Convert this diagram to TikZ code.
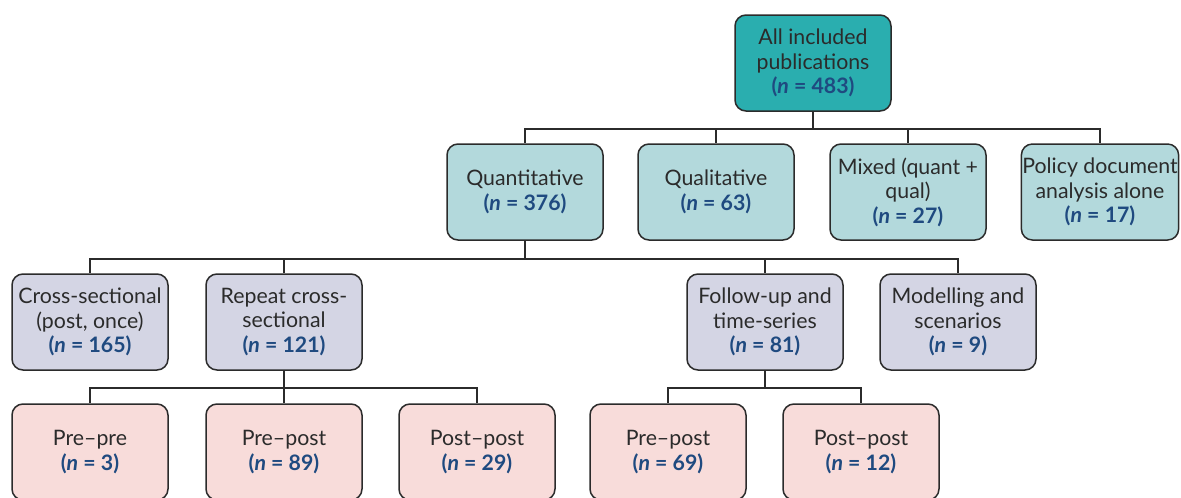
\documentclass[tikz,border=0pt]{standalone}
\usepackage{fontspec}
\setmainfont{Lato}
\definecolor{topfill}{HTML}{2AAEAF}
\definecolor{secfill}{HTML}{B3D9DC}
\definecolor{thirdfill}{HTML}{D4D5E4}
\definecolor{fourthfill}{HTML}{F8DCDA}
\definecolor{nblue}{HTML}{1F4A80}
\definecolor{ink}{HTML}{2B2B2B}
\newcommand{\ncount}[1]{{\bfseries\color{nblue}(\textit{n} = #1)}}
\tikzset{
  box/.style={draw=ink, line width=1.5pt, rounded corners=11pt,
    minimum width=156pt, minimum height=96pt, align=center,
    text=ink, font=\fontsize{21.3}{24.5}\selectfont, inner sep=1pt},
  lvlone/.style={box, fill=topfill},
  lvltwo/.style={box, fill=secfill},
  lvlthree/.style={box, fill=thirdfill},
  lvlfour/.style={box, fill=fourthfill},
  link/.style={draw=ink, line width=1.5pt}
}
\begin{document}
\begin{tikzpicture}[x=1pt,y=-1pt]
\useasboundingbox (0,0) rectangle (1181,498);
\clip (0,0) rectangle (1181,498);

% top level
\node[lvlone] (all) at (813,63) {All included\\publications\\\ncount{483}};

% study types
\node[lvltwo] (quant) at (525,192) {Quantitative\\\ncount{376}};
\node[lvltwo] (qual) at (716,192) {Qualitative\\\ncount{63}};
\node[lvltwo] (mixed) at (908,192) {Mixed (quant +\\qual)\\\ncount{27}};
\node[lvltwo] (policy) at (1100,192) {Policy document\\analysis alone\\\ncount{17}};

% quantitative designs
\node[lvlthree] (cross) at (90,322) {Cross-sectional\\(post, once)\\\ncount{165}};
\node[lvlthree] (repeat) at (284,322) {Repeat cross-\\sectional\\\ncount{121}};
\node[lvlthree] (follow) at (765,322) {Follow-up and\\time-series\\\ncount{81}};
\node[lvlthree] (model) at (958,322) {Modelling and\\scenarios\\\ncount{9}};

% repeat cross-sectional comparisons
\node[lvlfour] (rprepre) at (90,452) {Pre--pre\\\ncount{3}};
\node[lvlfour] (rprepost) at (284,452) {Pre--post\\\ncount{89}};
\node[lvlfour] (rpostpost) at (477,452) {Post--post\\\ncount{29}};

% follow-up comparisons
\node[lvlfour] (fprepost) at (668,452) {Pre--post\\\ncount{69}};
\node[lvlfour] (fpostpost) at (861,452) {Post--post\\\ncount{12}};

% elbow connectors
\foreach \c in {quant,qual,mixed,policy}
  \draw[link] (all.south) -- ++(0,17) -| (\c.north);
\foreach \c in {cross,repeat,follow,model}
  \draw[link] (quant.south) -- ++(0,18) -| (\c.north);
\foreach \c in {rprepre,rprepost,rpostpost}
  \draw[link] (repeat.south) -- ++(0,17) -| (\c.north);
\foreach \c in {fprepost,fpostpost}
  \draw[link] (follow.south) -- ++(0,17) -| (\c.north);
\end{tikzpicture}
\end{document}
